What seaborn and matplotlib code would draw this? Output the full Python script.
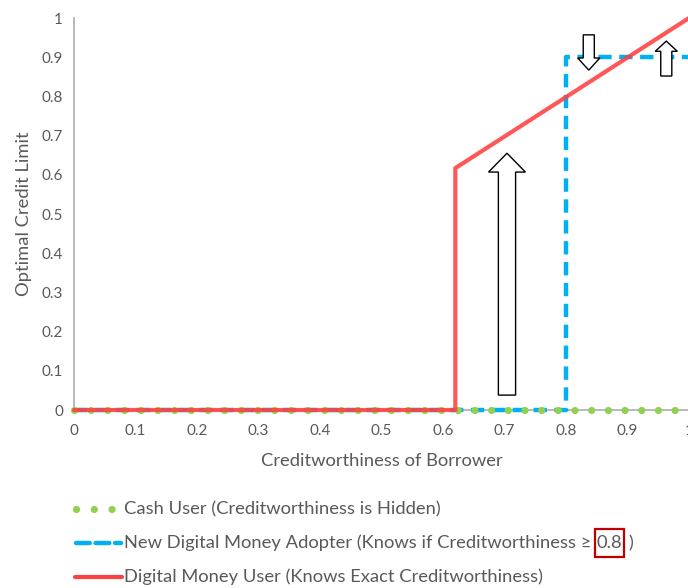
import matplotlib
matplotlib.use("Agg")
import matplotlib.pyplot as plt
import matplotlib.patches as mpatches
from matplotlib.lines import Line2D
import seaborn as sns
import pandas as pd

# ---- data ----
cash_x = [0.0, 1.0]
cash_y = [0.0, 0.0]
adopter_x = [0.0, 0.8, 0.8, 1.0]
adopter_y = [0.0, 0.0, 0.9, 0.9]
digital_x = [0.0, 0.62, 0.62, 1.0]
digital_y = [0.0, 0.0, 0.617, 1.0]

x_ticks = [0, 0.1, 0.2, 0.3, 0.4, 0.5, 0.6, 0.7, 0.8, 0.9, 1]
y_ticks = [0, 0.1, 0.2, 0.3, 0.4, 0.5, 0.6, 0.7, 0.8, 0.9, 1]
x_label = "Creditworthiness of Borrower"
y_label = "Optimal Credit Limit"
leg_cash = "Cash User (Creditworthiness is Hidden)"
leg_adopter_pre = "New Digital Money Adopter (Knows if Creditworthiness \u2265"
leg_adopter_box = "0.8"
leg_adopter_post = ")"
leg_digital = "Digital Money User (Knows Exact Creditworthiness)"

# hollow arrows: (x, y_start, y_end, shaft_w, head_w, head_len)
arrows = [
    (0.704, 0.038, 0.655, 0.028, 0.060, 0.048),
    (0.837, 0.957, 0.867, 0.018, 0.036, 0.031),
    (0.963, 0.852, 0.941, 0.018, 0.036, 0.026),
]

GREEN = "#92D050"
BLUE = "#00B0F0"
RED = "#FF4040"
TXT = "#595959"
AXC = "#B4B4B4"
FS = 13.2

sns.set_theme(style="white")
plt.rcParams["font.family"] = ["Lato", "DejaVu Sans"]

fig = plt.figure(figsize=(6.88, 5.88), dpi=100)
ax = fig.add_axes([74 / 688, 1 - 410 / 588, 1 - 74 / 688 + 0.0015, (410 - 18) / 588])

df_a = pd.DataFrame({"x": adopter_x, "y": adopter_y})
df_d = pd.DataFrame({"x": digital_x, "y": digital_y})
df_c = pd.DataFrame({"x": cash_x, "y": cash_y})

sns.lineplot(data=df_a, x="x", y="y", sort=False, estimator=None, ax=ax,
             color=BLUE, lw=3.2, zorder=3, clip_on=False)
ax.lines[-1].set_dashes([3.0, 1.7])
sns.lineplot(data=df_c, x="x", y="y", sort=False, estimator=None, ax=ax,
             color=GREEN, lw=5.2, zorder=4, clip_on=False)
ax.lines[-1].set_dashes([0.01, 2.3])
ax.lines[-1].set_dash_capstyle("round")
sns.lineplot(data=df_d, x="x", y="y", sort=False, estimator=None, ax=ax,
             color=RED, lw=3.0, alpha=0.88, zorder=5, clip_on=False)

for (xa, y0, y1, sw, hw, hl) in arrows:
    ax.add_patch(mpatches.FancyArrow(xa, y0, 0, y1 - y0, width=sw, head_width=hw,
                                     head_length=hl, length_includes_head=True,
                                     fc="white", ec="black", lw=1.0, zorder=6))

ax.set_xlim(0, 1)
ax.set_ylim(0, 1)
ax.set_xticks(x_ticks)
ax.set_yticks(y_ticks)
ax.set_xticklabels([f"{t:g}" for t in x_ticks])
ax.set_yticklabels([f"{t:g}" for t in y_ticks])
for s in ["top", "right"]:
    ax.spines[s].set_visible(False)
for s in ["left", "bottom"]:
    ax.spines[s].set_color(AXC)
    ax.spines[s].set_linewidth(1.3)
ax.tick_params(axis="both", which="both", direction="out", length=5, width=1,
               color=AXC, labelcolor=TXT, labelsize=11, pad=3)
ax.tick_params(axis="x", pad=5)
ax.set_xlabel(x_label, color=TXT, fontsize=FS, labelpad=11)
ax.set_ylabel(y_label, color=TXT, fontsize=FS, labelpad=7)
for lab in ax.get_xticklabels():
    lab.set_clip_on(False)

# ---- legend (manual, to allow the boxed 0.8) ----
def fx(px):
    return px / 688

def fy(py):
    return 1 - py / 588

rows = [509, 543, 577]
TX0 = 124
# cash
fig.add_artist(Line2D([fx(76), fx(112)], [fy(rows[0])] * 2, color=GREEN, lw=5.2,
                      dashes=[0.01, 2.45], dash_capstyle="round"))
fig.text(fx(TX0), fy(rows[0]), leg_cash, color=TXT, fontsize=FS, va="center")
# adopter
fig.add_artist(Line2D([fx(76), fx(121)], [fy(rows[1])] * 2, color=BLUE, lw=3.2,
                      dashes=[3.1, 1.3], dash_capstyle="round"))
t1 = fig.text(fx(TX0), fy(rows[1]), leg_adopter_pre, color=TXT, fontsize=FS, va="center")
t2 = ax.annotate(leg_adopter_box, xy=(1, 0.5), xycoords=t1, xytext=(4, 0),
                 textcoords="offset points", va="center", ha="left", color=TXT,
                 fontsize=FS, annotation_clip=False,
                 bbox=dict(boxstyle="square,pad=0.1", fc="none", ec="#C00000",
                           lw=1.6, mutation_aspect=3.2))
ax.annotate(leg_adopter_post, xy=(1, 0.5), xycoords=t2, xytext=(4, 0),
            textcoords="offset points", va="center", ha="left", color=TXT,
            fontsize=FS, annotation_clip=False)
# digital
fig.add_artist(Line2D([fx(75), fx(122)], [fy(rows[2])] * 2, color=RED, lw=3.0))
fig.text(fx(TX0), fy(rows[2]), leg_digital, color=TXT, fontsize=FS, va="center")

fig.savefig("out.png", dpi=100)
